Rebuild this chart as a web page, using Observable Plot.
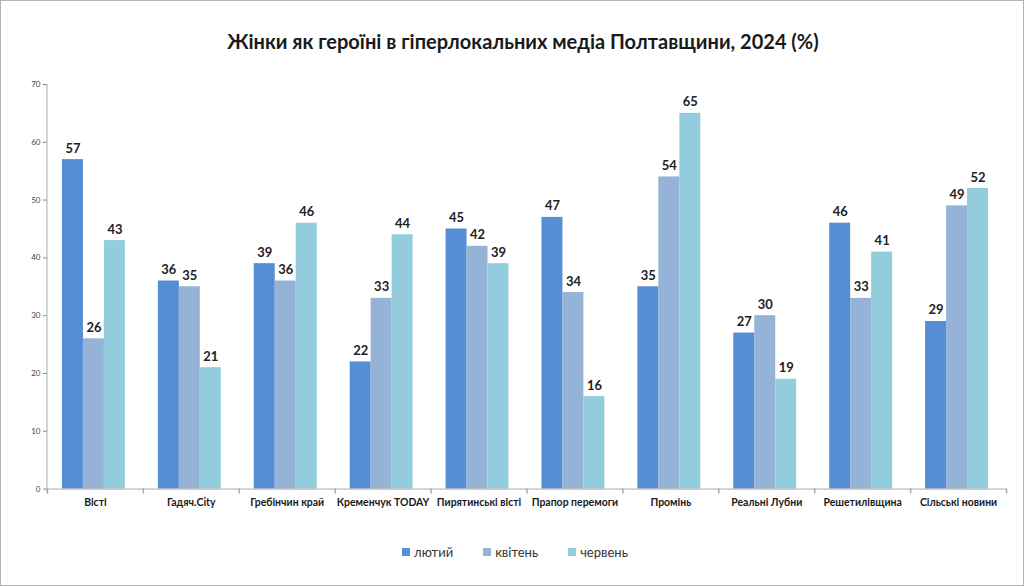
<!DOCTYPE html>
<html>
<head>
<meta charset="utf-8">
<script src="https://cdn.jsdelivr.net/npm/d3@7"></script>
<script src="https://cdn.jsdelivr.net/npm/@observablehq/plot@0.6"></script>
<style>
  html, body { margin: 0; padding: 0; background: #fff; }
  #frame { position: relative; width: 1022px; height: 584px; border: 1px solid #b4b4b4; overflow: hidden; font-family: Lato, "Open Sans", sans-serif; }
  #title { position: absolute; top: 28px; left: 22px; width: 1000px; text-align: center; font-weight: 700; font-size: 20px; color: #1a1a1a; }
  #chart { position: absolute; top: 69px; left: -1px; }
  #legend { position: absolute; top: 543px; left: 6px; width: 1016px; display: flex; justify-content: center; gap: 30px; font-size: 13px; color: #333; }
  .item { display: flex; align-items: center; gap: 4px; }
  .sw { width: 8px; height: 8px; display: inline-block; }
</style>
</head>
<body>
<div id="frame">
  <div id="title">Жінки як героїні в гіперлокальних медіа Полтавщини, 2024 (%)</div>
  <div id="chart"></div>
  <div id="legend"></div>
</div>
<script>
const categories = ["Вісті", "Гадяч.City", "Гребінчин край", "Кременчук TODAY", "Пирятинські вісті", "Прапор перемоги", "Промінь", "Реальні Лубни", "Решетилівщина", "Сільські новини"];
const series = ["лютий", "квітень", "червень"];
const valuesFeb = [57, 36, 39, 22, 45, 47, 35, 27, 46, 29];
const valuesApr = [26, 35, 36, 33, 42, 34, 54, 30, 33, 49];
const valuesJun = [43, 21, 46, 44, 39, 16, 65, 19, 41, 52];
const colors = ["#558ed5", "#95b3d7", "#93cddd"];
const yTicks = [0, 10, 20, 30, 40, 50, 60, 70];

const seriesValues = [valuesFeb, valuesApr, valuesJun];
const data = [];
categories.forEach((c, i) => {
  series.forEach((s, j) => data.push({category: c, series: s, value: seriesValues[j][i]}));
});

const tickShape = {
  draw(context, l) { context.moveTo(0, 0); context.lineTo(0, -l); }
};

const chart = Plot.plot({
  width: 1024,
  height: 450,
  marginTop: 14,
  marginBottom: 31,
  marginLeft: 47,
  marginRight: 17,
  style: {fontFamily: "Lato, 'Open Sans', sans-serif", background: "transparent"},
  fx: {domain: categories, padding: 0, label: null, axis: null},
  x: {domain: series, paddingInner: 0, paddingOuter: 0.7, align: 0.45, axis: null},
  y: {domain: [0, 70], ticks: yTicks, label: null},
  color: {domain: series, range: colors},
  marks: [
    Plot.axisY({ticks: yTicks, tickSize: 4, tickPadding: 3, fontSize: 8, color: "#444", stroke: "#888", label: null}),
    Plot.barY(data, {fx: "category", x: "series", y: "value", fill: "series"}),
    Plot.text(data, {fx: "category", x: "series", y: "value", text: d => String(d.value), lineAnchor: "bottom", dy: -7, fontSize: 13, fontWeight: 700, fill: "#222"}),
    Plot.ruleY([0], {stroke: "#aaa"}),
    Plot.vector(categories, {fx: d => d, frameAnchor: "bottom-left", length: 4, rotate: 180, anchor: "start", shape: tickShape, stroke: "#aaa"}),
    Plot.vector(categories.slice(-1), {fx: d => d, frameAnchor: "bottom-right", length: 4, rotate: 180, anchor: "start", shape: tickShape, stroke: "#aaa"}),
    Plot.axisFx({anchor: "bottom", tickSize: 0, tickPadding: 9, fontSize: 10.5, fontWeight: 700, color: "#1a1a1a", label: null})
  ]
});
document.getElementById("chart").appendChild(chart);

const svg = d3.select(chart);
const ys = chart.scale("y");
svg.append("line")
  .attr("x1", 47).attr("x2", 47)
  .attr("y1", ys.apply(70)).attr("y2", ys.apply(0) + 4)
  .attr("stroke", "#aaa");

const legend = document.getElementById("legend");
series.forEach((s, i) => {
  const it = document.createElement("div");
  it.className = "item";
  it.innerHTML = `<span class="sw" style="background:${colors[i]}"></span><span>${s}</span>`;
  legend.appendChild(it);
});
</script>
</body>
</html>
